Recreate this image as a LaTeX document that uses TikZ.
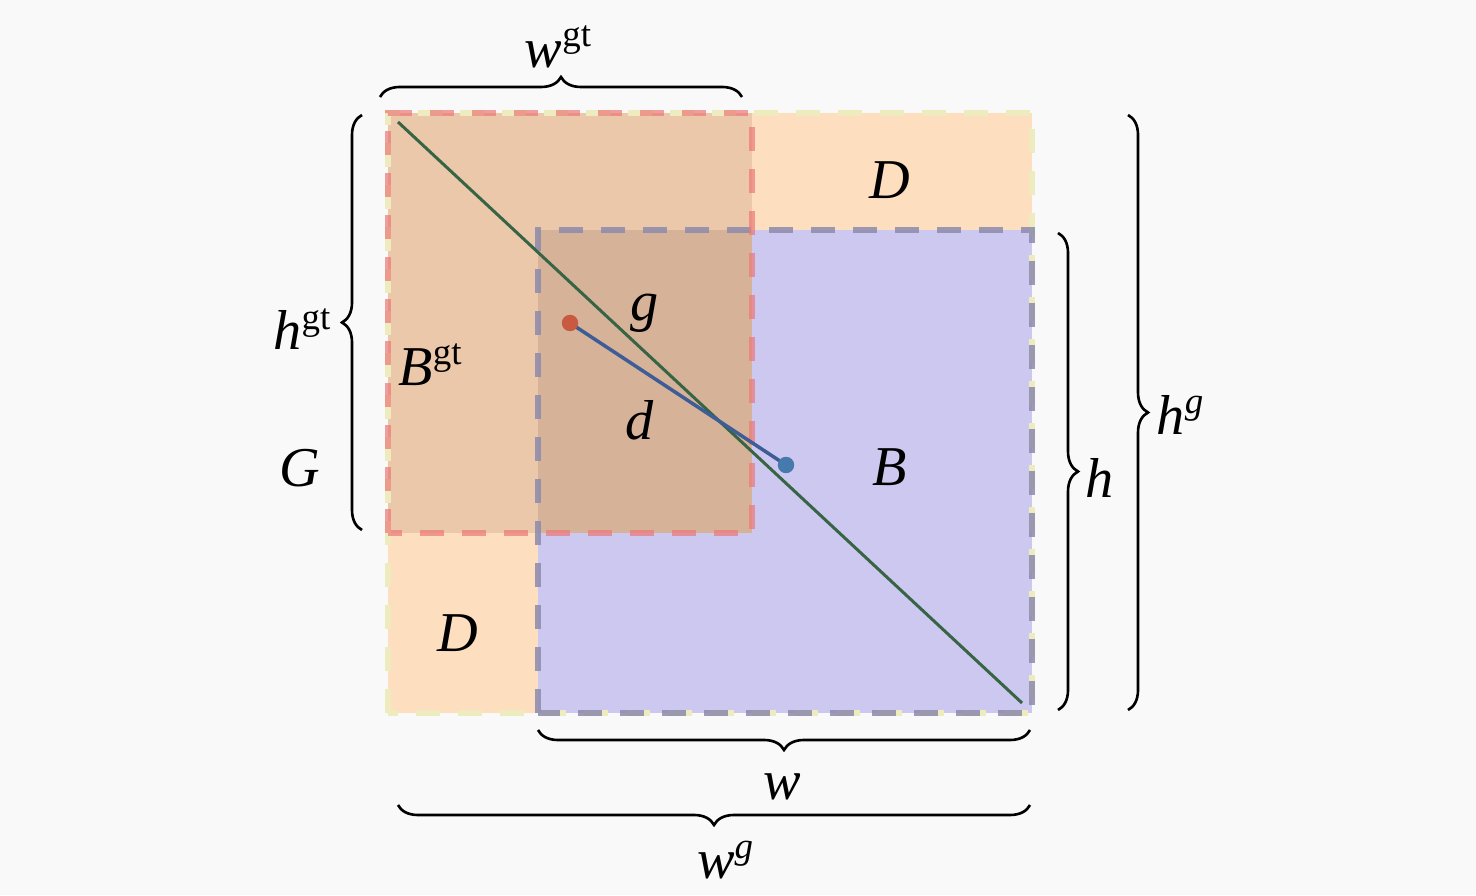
\documentclass[tikz,border=0pt]{standalone}
\usepackage{fontspec}
\setmainfont{Liberation Serif}
\usetikzlibrary{decorations.pathreplacing}
\definecolor{bgpaper}{RGB}{249,249,249}
\definecolor{peach}{RGB}{253,223,192}
\definecolor{bgtfill}{RGB}{235,200,170}
\definecolor{bfill}{RGB}{205,200,240}
\definecolor{ovfill}{RGB}{214,179,152}
\definecolor{peachline}{RGB}{238,236,190}
\definecolor{bgtline}{RGB}{236,120,120}
\definecolor{bline}{RGB}{140,138,172}
\definecolor{diagline}{RGB}{55,100,68}
\definecolor{dline}{RGB}{62,92,150}
\definecolor{reddot}{RGB}{200,90,65}
\definecolor{bluedot}{RGB}{70,122,172}
\newcommand{\lbl}[2]{#1\raisebox{0.8ex}{\fontsize{10.5}{12}\selectfont #2}}

\begin{document}
\begin{tikzpicture}[font=\fontsize{16}{19}\selectfont\itshape,
    box/.style={line width=0.06cm, dash pattern=on 0.24cm off 0.18cm},
    brc/.style={decorate, decoration={brace, amplitude=0.2cm}, line width=0.75pt}]
            \useasboundingbox (0,0) rectangle (14.76,8.95);
            \fill[bgpaper] (0,0) rectangle (14.76,8.95);

            % regions
            \fill[peach] (3.88,1.82) rectangle (10.32,7.82);
            \fill[bgtfill] (3.88,3.62) rectangle (7.52,7.82);
            \fill[bfill] (5.38,1.82) rectangle (10.32,6.65);
            \fill[ovfill] (5.38,3.62) rectangle (7.52,6.65);
            \draw[box, peachline] (3.88,1.82) rectangle (10.32,7.82);
            \draw[box, bline, opacity=0.85] (5.38,1.82) rectangle (10.32,6.65);
            \draw[box, bgtline, opacity=0.7] (3.88,3.62) rectangle (7.52,7.82);

            % diagonal and centres
            \coordinate (gtl) at (3.98,7.73);
            \coordinate (gbr) at (10.22,1.92);
            \draw[diagline, line width=0.03cm] (gtl) -- (gbr);
            \coordinate (cgt) at (5.70,5.72);
            \coordinate (cb) at (7.86,4.30);
            \draw[dline, line width=0.035cm] (cgt) -- (cb);
            \filldraw[reddot] (cgt) circle (0.075);
            \filldraw[bluedot] (cb) circle (0.075);

            % labels inside
            \node (Dtop) at (8.90,7.15) {D};
            \node (Dbot) at (4.58,2.62) {D};
            \node (glab) at (6.45,5.82) {g};
            \node (dlab) at (6.40,4.75) {d};
            \node (Bgt) at (4.30,5.30) {\lbl{B}{\upshape gt}};
            \node (Blab) at (8.90,4.28) {B};
            \node (Glab) at (3.00,4.27) {G};

            % braces
            \draw[brc] (3.80,7.98) -- (7.42,7.98);
            \draw[brc] (3.62,3.65) -- (3.62,7.80);
            \draw[brc] (10.58,6.62) -- (10.58,1.85);
            \draw[brc] (11.28,7.80) -- (11.28,1.85);
            \draw[brc] (10.30,1.65) -- (5.38,1.65);
            \draw[brc] (10.30,0.90) -- (3.98,0.90);
            \node (wgt) at (5.58,8.48) {\lbl{w}{\upshape gt}};
            \node (hgt) at (3.02,5.66) {\lbl{h}{\upshape gt}};
            \node (hlab) at (11.00,4.17) {h};
            \node (hg) at (11.80,4.80) {\lbl{h}{g}};
            \node (wlab) at (7.82,1.08) {w};
            \node (wg) at (7.25,0.35) {\lbl{w}{g}};
        \end{tikzpicture}
\end{document}
